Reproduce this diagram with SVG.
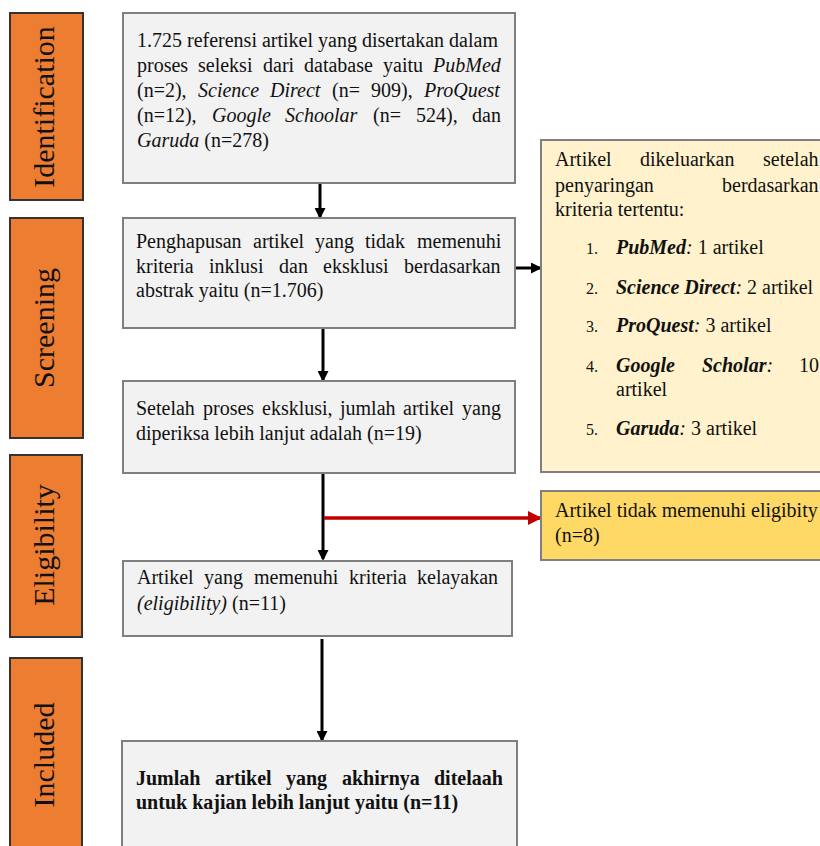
<svg xmlns="http://www.w3.org/2000/svg" width="820" height="846" viewBox="0 0 820 846">
<defs>
<style>
.side{fill:#ED7D31;stroke:#333;stroke-width:2}
.box{fill:#F2F2F2;stroke:#7F7F7F;stroke-width:2}
.pale{fill:#FFF2CC;stroke:#7F7F7F;stroke-width:2}
.yel{fill:#FFD966;stroke:#7F7F7F;stroke-width:2}
text{font-family:"Liberation Serif","Times New Roman",serif;font-size:20px;fill:#111}
.lab{font-size:30px;text-anchor:middle}
.b{font-weight:bold}
.i{font-style:italic}
.bi{font-weight:bold;font-style:italic}
.num{font-size:16px}
.con{stroke:#000;stroke-width:3;fill:none}
.red{stroke:#C00000;stroke-width:3.5;fill:none}
</style>
<marker id="ah" markerWidth="11" markerHeight="11" refX="9" refY="5.5" orient="auto" markerUnits="userSpaceOnUse">
<path d="M0,0 L11,5.5 L0,11 Z" fill="#000"/>
</marker>
<marker id="ahr" markerWidth="14" markerHeight="14" refX="12" refY="7" orient="auto" markerUnits="userSpaceOnUse">
<path d="M0,0 L14,7 L0,14 Z" fill="#C00000"/>
</marker>
</defs>
<rect width="820" height="846" fill="#fff"/>

<g id="stage-identification">
<rect class="side" x="10" y="13" width="73" height="187"/>
<text class="lab" transform="translate(54,107) rotate(-90)">Identification</text>
</g>
<g id="stage-screening">
<rect class="side" x="10" y="218" width="73" height="220"/>
<text class="lab" transform="translate(54,328) rotate(-90)">Screening</text>
</g>
<g id="stage-eligibility">
<rect class="side" x="10" y="455" width="72" height="182"/>
<text class="lab" transform="translate(54,545) rotate(-90)">Eligibility</text>
</g>
<g id="stage-included">
<rect class="side" x="10" y="658" width="72" height="200"/>
<text class="lab" transform="translate(54,755) rotate(-90)">Included</text>
</g>

<g id="connectors">
<line class="con" x1="320" y1="183" x2="320" y2="217" marker-end="url(#ah)"/>
<line class="con" x1="323" y1="328" x2="323" y2="380" marker-end="url(#ah)"/>
<line class="con" x1="323" y1="473" x2="323" y2="559" marker-end="url(#ah)"/>
<line class="red" x1="324" y1="518" x2="540" y2="518" marker-end="url(#ahr)"/>
<line class="con" x1="322" y1="639" x2="322" y2="740" marker-end="url(#ah)"/>
<line class="con" x1="515" y1="268" x2="540" y2="268" marker-end="url(#ah)"/>
</g>

<g id="node-identification">
<rect class="box" x="123" y="13" width="392" height="170"/>
<text x="137" y="47">1.725 referensi artikel yang disertakan dalam</text>
<text y="72"><tspan x="137">proses</tspan><tspan x="198">seleksi</tspan><tspan x="263">dari</tspan><tspan x="304">database</tspan><tspan x="383">yaitu</tspan><tspan x="433" class="i">PubMed</tspan></text>
<text y="97"><tspan x="137">(n=2),</tspan><tspan x="198" class="i">Science</tspan><tspan x="270" class="i">Direct</tspan><tspan x="332">(n=</tspan><tspan x="371">909),</tspan><tspan x="424" class="i">ProQuest</tspan></text>
<text y="122"><tspan x="137">(n=12),</tspan><tspan x="212" class="i">Google</tspan><tspan x="285" class="i">Schoolar</tspan><tspan x="373">(n=</tspan><tspan x="416">524),</tspan><tspan x="472">dan</tspan></text>
<text x="137" y="147"><tspan class="i">Garuda</tspan> (n=278)</text>
</g>

<g id="node-screening">
<rect class="box" x="123" y="218" width="392" height="110"/>
<text y="248"><tspan x="136">Penghapusan</tspan><tspan x="253">artikel</tspan><tspan x="315">yang</tspan><tspan x="365">tidak</tspan><tspan x="417">memenuhi</tspan></text>
<text y="273"><tspan x="136">kriteria</tspan><tspan x="209">inklusi</tspan><tspan x="279">dan</tspan><tspan x="323">eksklusi</tspan><tspan x="404">berdasarkan</tspan></text>
<text x="136" y="297">abstrak yaitu (n=1.706)</text>
</g>

<g id="node-screened">
<rect class="box" x="123" y="381" width="392" height="92"/>
<text y="415"><tspan x="136">Setelah</tspan><tspan x="203">proses</tspan><tspan x="262">eksklusi,</tspan><tspan x="340">jumlah</tspan><tspan x="403">artikel</tspan><tspan x="462">yang</tspan></text>
<text x="136" y="440">diperiksa lebih lanjut adalah (n=19)</text>
</g>

<g id="node-excluded-criteria">
<rect class="pale" x="541" y="140" width="290" height="332"/>
<text y="166"><tspan x="555">Artikel</tspan><tspan x="640">dikeluarkan</tspan><tspan x="763">setelah</tspan></text>
<text y="192"><tspan x="555">penyaringan</tspan><tspan x="722">berdasarkan</tspan></text>
<text x="555" y="216">kriteria tertentu:</text>
<text class="num" x="586" y="254">1.</text>
<text x="616" y="254"><tspan class="bi">PubMed</tspan><tspan class="i">:</tspan> 1 artikel</text>
<text class="num" x="586" y="294">2.</text>
<text x="616" y="294"><tspan class="bi">Science Direct</tspan><tspan class="i">:</tspan> 2 artikel</text>
<text class="num" x="586" y="332">3.</text>
<text x="616" y="332"><tspan class="bi">ProQuest</tspan><tspan class="i">:</tspan> 3 artikel</text>
<text class="num" x="586" y="372">4.</text>
<text y="372"><tspan x="616" class="bi">Google</tspan><tspan x="702" class="bi">Scholar</tspan><tspan class="i">:</tspan><tspan x="799">10</tspan></text>
<text x="616" y="396">artikel</text>
<text class="num" x="586" y="435">5.</text>
<text x="616" y="435"><tspan class="bi">Garuda</tspan><tspan class="i">:</tspan> 3 artikel</text>
</g>

<g id="node-not-eligible">
<rect class="yel" x="541" y="491" width="290" height="69"/>
<text x="555" y="517">Artikel tidak memenuhi eligibity</text>
<text x="555" y="542">(n=8)</text>
</g>

<g id="node-eligible">
<rect class="box" x="123" y="561" width="389" height="75"/>
<text y="584"><tspan x="137">Artikel</tspan><tspan x="204">yang</tspan><tspan x="254">memenuhi</tspan><tspan x="349">kriteria</tspan><tspan x="417">kelayakan</tspan></text>
<text x="137" y="610"><tspan class="i">(eligibility)</tspan> (n=11)</text>
</g>

<g id="node-included">
<rect class="box" x="122" y="741" width="395" height="120"/>
<text class="b" y="785"><tspan x="136">Jumlah</tspan><tspan x="215">artikel</tspan><tspan x="286">yang</tspan><tspan x="342">akhirnya</tspan><tspan x="434">ditelaah</tspan></text>
<text class="b" x="136" y="809">untuk kajian lebih lanjut yaitu (n=11)</text>
</g>
</svg>
